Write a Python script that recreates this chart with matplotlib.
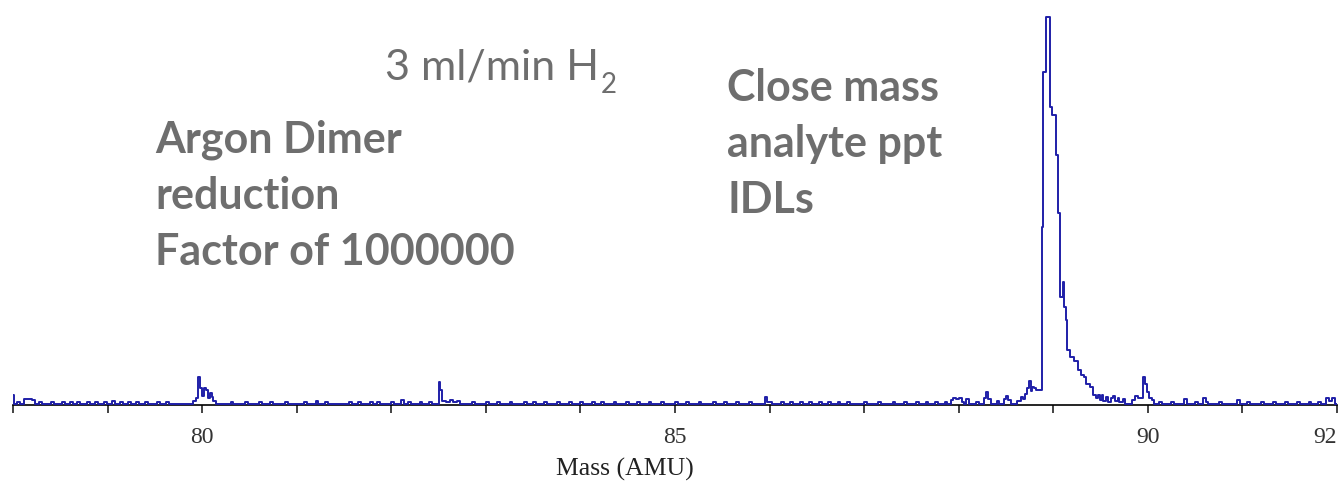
import matplotlib.pyplot as plt

# mass spectrum trace (steps-post: level holds until next mass)
mass = [
    78.00, 78.01, 78.04, 78.07, 78.12, 78.20, 78.23, 78.28, 78.31, 78.40, 78.43,
    78.52, 78.55, 78.60, 78.63, 78.68, 78.71, 78.78, 78.81, 78.87, 78.90, 78.96,
    78.99, 79.05, 79.08, 79.13, 79.16, 79.22, 79.25, 79.30, 79.33, 79.40, 79.43,
    79.52, 79.55, 79.62, 79.65,
    79.90, 79.93, 79.96, 79.98, 80.00, 80.02, 80.04, 80.06, 80.08, 80.10, 80.12, 80.15,
    80.30, 80.33, 80.45, 80.48, 80.60, 80.63, 80.72, 80.75, 80.88, 80.91, 81.08, 81.11,
    81.20, 81.23, 81.30, 81.33, 81.55, 81.58, 81.65, 81.68, 81.78, 81.81, 81.85, 81.88,
    82.00, 82.03, 82.10, 82.13, 82.18, 82.21, 82.30, 82.33, 82.40, 82.43,
    82.50, 82.52, 82.54, 82.58, 82.62, 82.65, 82.70, 82.73, 82.85, 82.88,
    83.00, 83.03, 83.12, 83.15, 83.25, 83.28, 83.40, 83.43, 83.50, 83.53, 83.62, 83.65,
    83.75, 83.78, 83.88, 83.91, 84.00, 84.03, 84.12, 84.15, 84.22, 84.25, 84.35, 84.38,
    84.48, 84.51, 84.60, 84.63, 84.72, 84.75, 84.85, 84.88, 85.00, 85.03, 85.12, 85.15,
    85.25, 85.28, 85.40, 85.43, 85.52, 85.55, 85.65, 85.68, 85.78, 85.81,
    85.95, 85.97, 86.00, 86.03,
    86.12, 86.15, 86.22, 86.25, 86.32, 86.35, 86.42, 86.45, 86.52, 86.55, 86.62, 86.65,
    86.72, 86.75, 86.82, 86.85, 87.00, 87.03, 87.15, 87.18, 87.30, 87.33, 87.42, 87.45,
    87.55, 87.58, 87.65, 87.68, 87.75, 87.78, 87.85, 87.88,
    87.92, 87.94, 87.97, 88.00, 88.03, 88.06, 88.08, 88.11, 88.18, 88.21, 88.27, 88.29,
    88.31, 88.34, 88.40, 88.43, 88.48, 88.50, 88.52, 88.55, 88.62, 88.66, 88.68, 88.70,
    88.72, 88.74, 88.76, 88.78, 88.80, 88.82,
    88.88, 88.895, 88.925, 88.96, 88.97, 88.99, 89.03, 89.055, 89.07, 89.10, 89.115,
    89.13, 89.15, 89.18, 89.22, 89.26, 89.29, 89.32, 89.35, 89.39, 89.42, 89.45, 89.47,
    89.49, 89.51, 89.53, 89.56, 89.58, 89.61, 89.63, 89.65, 89.68, 89.70, 89.74, 89.76,
    89.83, 89.86, 89.90, 89.95, 89.97, 89.99, 90.01, 90.04, 90.06,
    90.12, 90.15, 90.25, 90.28, 90.38, 90.41, 90.50, 90.53, 90.58, 90.61, 90.64,
    90.75, 90.78, 90.94, 90.97, 91.05, 91.08, 91.20, 91.23, 91.32, 91.35, 91.45, 91.48,
    91.58, 91.61, 91.70, 91.73, 91.80, 91.83, 91.88, 91.92, 91.95, 91.98, 92.00,
]
intensity = [
    2.3, 0, 0.6, 0, 1.3, 1.0, 0, 0.5, 0, 0.4, 0,
    0.4, 0, 0.4, 0, 0.4, 0, 0.5, 0, 0.6, 0, 0.6,
    0, 0.7, 0, 0.6, 0, 0.5, 0, 0.5, 0, 0.4, 0,
    0.4, 0, 0.4, 0,
    0.8, 1.5, 7.0, 4.0, 2.0, 4.0, 3.6, 1.5, 2.8, 1.8, 0.8, 0,
    0.4, 0, 0.4, 0, 0.5, 0, 0.4, 0, 0.6, 0, 0.5, 0,
    0.8, 0, 0.5, 0, 0.4, 0, 0.4, 0, 0.4, 0, 0.4, 0,
    0.6, 0, 0.9, 0, 0.5, 0, 0.5, 0, 0.5, 0,
    5.7, 3.6, 0.8, 0.4, 0.9, 0.4, 0.8, 0, 0.4, 0,
    0.4, 0, 0.4, 0, 0.5, 0, 0.4, 0, 0.4, 0, 0.5, 0,
    0.4, 0, 0.4, 0, 0.5, 0, 0.4, 0, 0.4, 0, 0.4, 0,
    0.5, 0, 0.4, 0, 0.4, 0, 0.4, 0, 0.5, 0, 0.4, 0,
    0.4, 0, 0.4, 0, 0.4, 0, 0.5, 0, 0.4, 0,
    1.8, 0.6, 0.5, 0,
    0.4, 0, 0.4, 0, 0.4, 0, 0.5, 0, 0.4, 0, 0.4, 0,
    0.4, 0, 0.5, 0, 0.4, 0, 0.5, 0, 0.4, 0, 0.6, 0,
    0.4, 0, 0.5, 0, 0.5, 0, 0.6, 0,
    1.0, 1.5, 1.2, 1.5, 0.5, 0, 1.2, 0, 0.6, 0, 1.5, 3.0,
    1.2, 0, 0.7, 0, 1.2, 2.0, 1.0, 0, 0.8, 1.8, 1.2, 2.5,
    4.0, 6.0, 3.4, 4.4, 4.0, 3.6,
    45.7, 85.8, 100, 89.7, 76.7, 74.7, 64.3, 49.4, 27.6, 31.5, 25,
    21.7, 14, 12, 11, 8.8, 7.5, 7.0, 5.0, 4.4, 2.3, 1.5, 2.3,
    1.0, 2.2, 0.8, 1.8, 0.6, 1.5, 2.0, 0.8, 1.6, 0.5, 1.2, 0,
    1.0, 2.0, 1.5, 7.0, 5.0, 3.0, 1.5, 1.0, 0,
    0.6, 0, 0.6, 0, 1.2, 0, 0.6, 0, 1.5, 0.5, 0,
    0.5, 0, 1.0, 0, 0.4, 0, 0.4, 0, 0.5, 0, 0.4, 0,
    0.4, 0, 0.5, 0, 0.4, 0, 1.5, 0.8, 1.5, 0, 0,
]

major_ticks = list(range(78, 93))
tick_labels = ['' if t not in (80, 85, 90, 92) else str(t) for t in major_ticks]

W, H = 1341, 486
fig = plt.figure(figsize=(W / 100, H / 100), dpi=100)
ax = fig.add_axes([13 / W, 1 - 405 / H, (1337 - 13) / W, (405 - 10) / H])

ax.plot(mass, intensity, drawstyle='steps-post', color='#1f1fa8', lw=1.4, zorder=3)

ax.set_xlim(78, 92)
ax.set_ylim(-0.3, 101.8)
for side in ('top', 'left', 'right'):
    ax.spines[side].set_visible(False)
ax.spines['bottom'].set_color('black')
ax.spines['bottom'].set_linewidth(1.2)
ax.set_yticks([])
ax.set_xticks(major_ticks)
ax.set_xticklabels(tick_labels, family='Liberation Serif', fontsize=17, color='#333333')
# the last label sits inside the right edge, as in the original screenshot
last = ax.get_xticklabels()[-1]
last.set_horizontalalignment('right')
ax.tick_params(axis='x', direction='out', length=6, width=1.2, color='#222222', pad=10)
ax.set_xlabel('Mass (AMU)', family='Liberation Serif', fontsize=18.5, color='#222222')
ax.xaxis.set_label_coords((625 - 13) / (1337 - 13), -0.135)

grey = '#6e6e6e'
fig.text(385 / W, 1 - 79 / H, '3 ml/min H', family='Lato', fontsize=31,
         color=grey, va='baseline', ha='left')
fig.text(601 / W, 1 - 93 / H, '2', family='Lato', fontsize=20,
         color=grey, va='baseline', ha='left')
fig.text(155 / W, 1 - 120 / H, 'Argon Dimer\nreduction\nFactor of 1000000',
         family='Lato', weight='bold', fontsize=31, color=grey,
         va='top', ha='left', linespacing=1.48)
fig.text(727 / W, 1 - 68 / H, 'Close mass\nanalyte ppt\nIDLs',
         family='Lato', weight='bold', fontsize=31, color=grey,
         va='top', ha='left', linespacing=1.48)

fig.savefig('out.png', dpi=100)
